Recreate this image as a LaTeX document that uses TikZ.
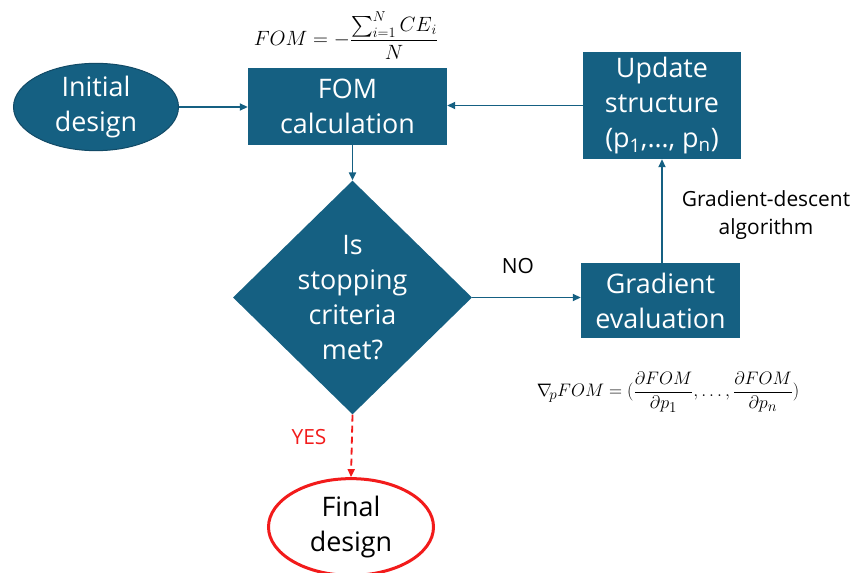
\documentclass[tikz,border=0pt]{standalone}
\usepackage{amsmath}
\usepackage{graphicx}
\usepackage{fontspec}
\setmainfont{Open Sans}
\usetikzlibrary{shapes.geometric,arrows.meta}
\definecolor{boxteal}{HTML}{156082}
\definecolor{tealedge}{HTML}{124A66}
\definecolor{redline}{HTML}{F21B1B}
\tikzset{
  box/.style={fill=boxteal,text=white,align=center,inner sep=0pt,
    font=\fontsize{27}{35}\selectfont},
  flow/.style={draw=boxteal,line width=1.8bp,-{Triangle[length=8bp,width=7bp]}},
  lbl/.style={font=\fontsize{21}{28}\selectfont,align=center},
}
\newcommand{\fomsym}{\mathnormal{FOM}}
\begin{document}
\begin{tikzpicture}[x=1bp,y=-1bp]
\useasboundingbox (0,0) rectangle (860,573);
% start and end ovals
\node[box,ellipse,draw=tealedge,line width=1bp,minimum width=165bp,minimum height=76bp] (init) at (96,107) {Initial\\design};
\node[ellipse,draw=redline,line width=3bp,fill=white,minimum width=165bp,minimum height=92bp,align=center,
  font=\fontsize{27}{35}\selectfont] (final) at (351,527) {Final\\design};
% process boxes
\node[box,minimum width=199bp,minimum height=77bp] (fom) at (347.5,106.5) {FOM\\calculation};
\node[box,minimum width=158bp,minimum height=107bp] (upd) at (662,105.5) {Update\\structure\\(p\textsubscript{1},\ldots, p\textsubscript{n})};
\node[box,minimum width=159bp,minimum height=75bp] (grad) at (660.5,300.5) {Gradient\\evaluation};
% decision
\node[box,diamond,minimum width=239bp,minimum height=170bp,inner sep=0pt] (stop) at (352.5,297.5) {Is\\stopping\\criteria\\met?};
% connectors
\draw[flow] (init.east) -- (fom.west |- init.east);
\draw[flow] (upd.west) -- (fom.east |- upd.west);
\draw[flow] (fom.south -| stop.north) -- (stop.north);
\draw[flow] (stop.east) -- (grad.west |- stop.east);
\draw[flow] (grad.north -| upd.south) -- (upd.south);
\draw[draw=redline,line width=1.8bp,dash pattern=on 7bp off 4bp,-{Triangle[length=8bp,width=7bp]}] (stop.south) -- (final.north);
% labels
\node[lbl] (no) at (518,266) {NO};
\node[lbl,text=redline] (yes) at (309,437) {YES};
\node[lbl] (gd) at (766,215) {Gradient-descent\\algorithm};
\node[font=\fontsize{21}{25}\selectfont,inner sep=1bp] (fomeq) at (346,36) {$\fomsym = -\dfrac{\sum_{i=1}^{N} \mathnormal{CE}_i}{N}$};
\node[font=\fontsize{19}{23}\selectfont,inner sep=1bp] (gradeq) at (668,392) {\scalebox{1.05}{$\nabla_{\!p}\fomsym = (\dfrac{\partial \fomsym}{\partial p_1},\ldots,\dfrac{\partial \fomsym}{\partial p_n})$}};
\end{tikzpicture}
\end{document}
